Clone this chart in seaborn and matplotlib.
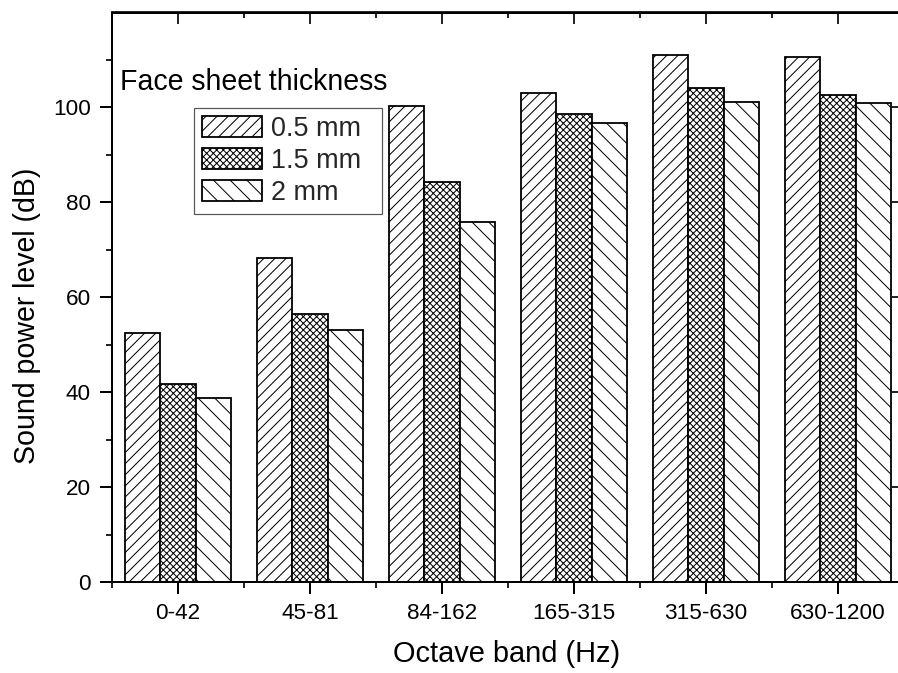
import matplotlib
matplotlib.use("Agg")
import matplotlib.pyplot as plt
from matplotlib.patches import Patch
import seaborn as sns
import pandas as pd

# ---- data ----
bands = ['0-42', '45-81', '84-162', '165-315', '315-630', '630-1200']
t05 = [52.5, 68.3, 100.3, 103.0, 111.1, 110.7]
t15 = [41.7, 56.5, 84.2, 98.6, 104.1, 102.7]
t20 = [38.7, 53.2, 75.8, 96.8, 101.2, 101.0]
series = ['0.5 mm', '1.5 mm', '2 mm']
hatches = ['///', 'xxxxx', '\\\\']
yticks_major = [0, 20, 40, 60, 80, 100]
yticks_minor = [10, 30, 50, 70, 90, 110]

DPI = 100
P = 72.0 / DPI  # points per pixel

sns.set_style('ticks')
plt.rcParams['font.family'] = ['Liberation Sans', 'DejaVu Sans']
plt.rcParams['hatch.linewidth'] = 1.0 * P
plt.rcParams['hatch.color'] = 'black'

df = pd.DataFrame({
    'band': bands * 3,
    'level': t05 + t15 + t20,
    'thickness': [s for s in series for _ in bands],
})

fig = plt.figure(figsize=(898 / DPI, 673 / DPI), dpi=DPI)
ax = fig.add_axes([112 / 898, 91 / 673, 792 / 898, 569.5 / 673])

sns.barplot(data=df, x='band', y='level', hue='thickness', hue_order=series,
            palette=['white'] * 3, saturation=1, edgecolor='black',
            linewidth=1.8 * P, width=0.81, gap=0, legend=False, ax=ax,
            errorbar=None)

for cont, h in zip(ax.containers, hatches):
    for bar in cont:
        bar.set_hatch(h)
        bar.set_edgecolor('black')

ax.set_xlim(-0.5, 5.5)
ax.set_ylim(0, 120)
ax.set_yticks(yticks_major)
ax.set_yticks(yticks_minor, minor=True)
ax.set_xticks(range(len(bands)))
ax.set_xticklabels(bands)
ax.set_xticks([i - 0.5 for i in range(len(bands) + 1)], minor=True)

for s in ax.spines.values():
    s.set_visible(True)
    s.set_linewidth(2.0 * P)
    s.set_color('black')

tick_fs = 22.5 * P
ax.tick_params(axis='both', which='major', direction='out', length=12 * P,
               width=2.0 * P, labelsize=tick_fs, colors='black')
ax.tick_params(axis='both', which='minor', direction='out', length=6 * P,
               width=2.0 * P)
ax.tick_params(axis='y', which='major', pad=9 * P)
ax.tick_params(axis='x', which='major', pad=9 * P)

# top / right inward ticks
secx = ax.secondary_xaxis('top')
secx.set_xticks(range(len(bands)))
secx.set_xticks([i - 0.5 for i in range(len(bands) + 1)], minor=True)
secx.tick_params(which='major', direction='in', length=12 * P, width=2.0 * P, labeltop=False)
secx.tick_params(which='minor', direction='in', length=6 * P, width=2.0 * P)
secx.spines['top'].set_linewidth(2.0 * P)

secy = ax.secondary_yaxis('right')
secy.set_yticks(yticks_major)
secy.set_yticks(yticks_minor, minor=True)
secy.tick_params(which='major', direction='in', length=12 * P, width=2.0 * P, labelright=False)
secy.tick_params(which='minor', direction='in', length=6 * P, width=2.0 * P)
secy.spines['right'].set_linewidth(2.0 * P)

ax.set_xlabel('Octave band (Hz)', fontsize=29 * P, color='black')
ax.set_ylabel('Sound power level (dB)', fontsize=28.5 * P, color='black')
ax.xaxis.set_label_coords(0.4985, -0.101)
ax.yaxis.set_label_coords(-0.090, 0.467)

handles = [Patch(facecolor='white', edgecolor='black', hatch=h,
                 linewidth=1.8 * P, label=s) for h, s in zip(hatches, series)]
leg = ax.legend(handles=handles, loc='upper left',
                bbox_to_anchor=(0.1035, 0.5, 0.2374, 0.332), mode='expand',
                borderaxespad=0, frameon=True, fancybox=False, framealpha=1,
                edgecolor='#555555', fontsize=27 * P, handlelength=60 / 27,
                handleheight=23 / 27, handletextpad=9 / 27, labelspacing=0.22,
                borderpad=0.28)
leg.get_frame().set_linewidth(1.2 * P)

ax.text(0.0101, 0.864, 'Face sheet thickness', transform=ax.transAxes,
        fontsize=28.5 * P, ha='left', va='baseline', color='black')

fig.savefig('out.png', dpi=DPI)
